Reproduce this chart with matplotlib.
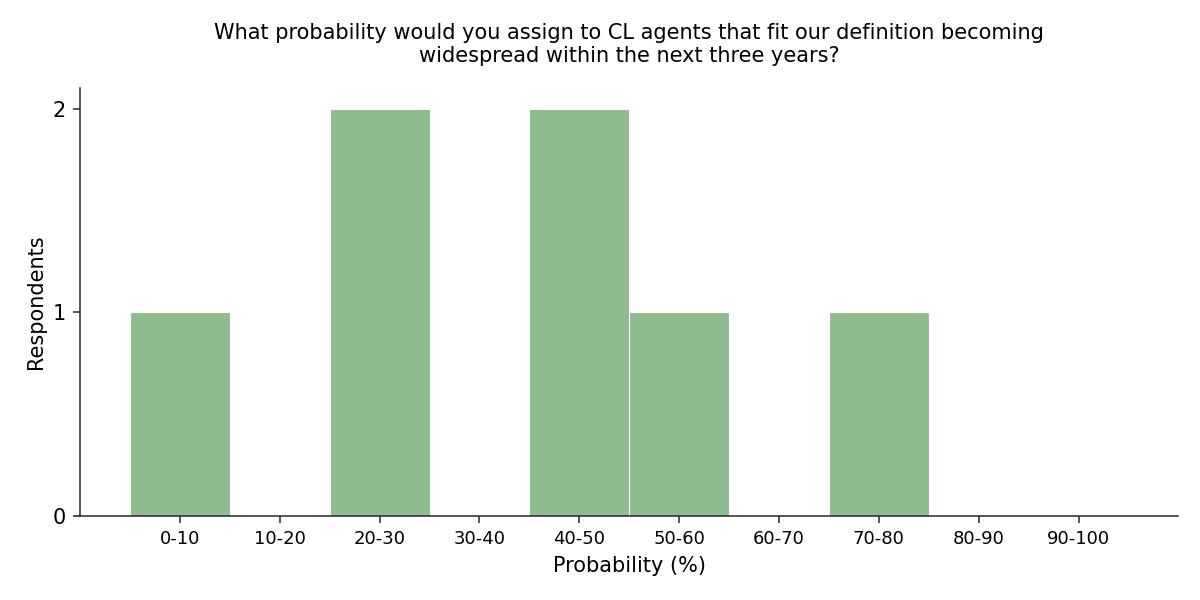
import matplotlib
matplotlib.use('Agg')
import matplotlib.pyplot as plt
import numpy as np

bins = ['0-10', '10-20', '20-30', '30-40', '40-50', '50-60',
        '60-70', '70-80', '80-90', '90-100']
counts = [1, 0, 2, 0, 2, 1, 0, 1, 0, 0]

fig, ax = plt.subplots(figsize=(12, 6), dpi=100)
x = np.arange(len(bins))
ax.bar(x, counts, width=1.0, color='#8fbc8f', edgecolor='white', linewidth=0.8)

ax.set_xticks(x)
ax.set_xticklabels(bins, fontsize=13)
ax.set_yticks([0, 1, 2])
ax.tick_params(axis='y', labelsize=15)
ax.tick_params(axis='both', length=5, width=1.1, color='#262626', pad=5)
ax.set_xlim(-1, 10)
ax.set_ylim(0, 2.1)
ax.set_xlabel('Probability (%)', fontsize=15, labelpad=6)
ax.set_ylabel('Respondents', fontsize=15, labelpad=5)
ax.set_title('What probability would you assign to CL agents that fit our definition becoming\n'
             'widespread within the next three years?', fontsize=15, pad=19)
ax.spines['top'].set_visible(False)
ax.spines['right'].set_visible(False)
for s in ['left', 'bottom']:
    ax.spines[s].set_linewidth(1.1)
    ax.spines[s].set_color('#262626')

plt.subplots_adjust(left=0.0667, right=0.982, top=0.853, bottom=0.14)
plt.savefig('out.png')
